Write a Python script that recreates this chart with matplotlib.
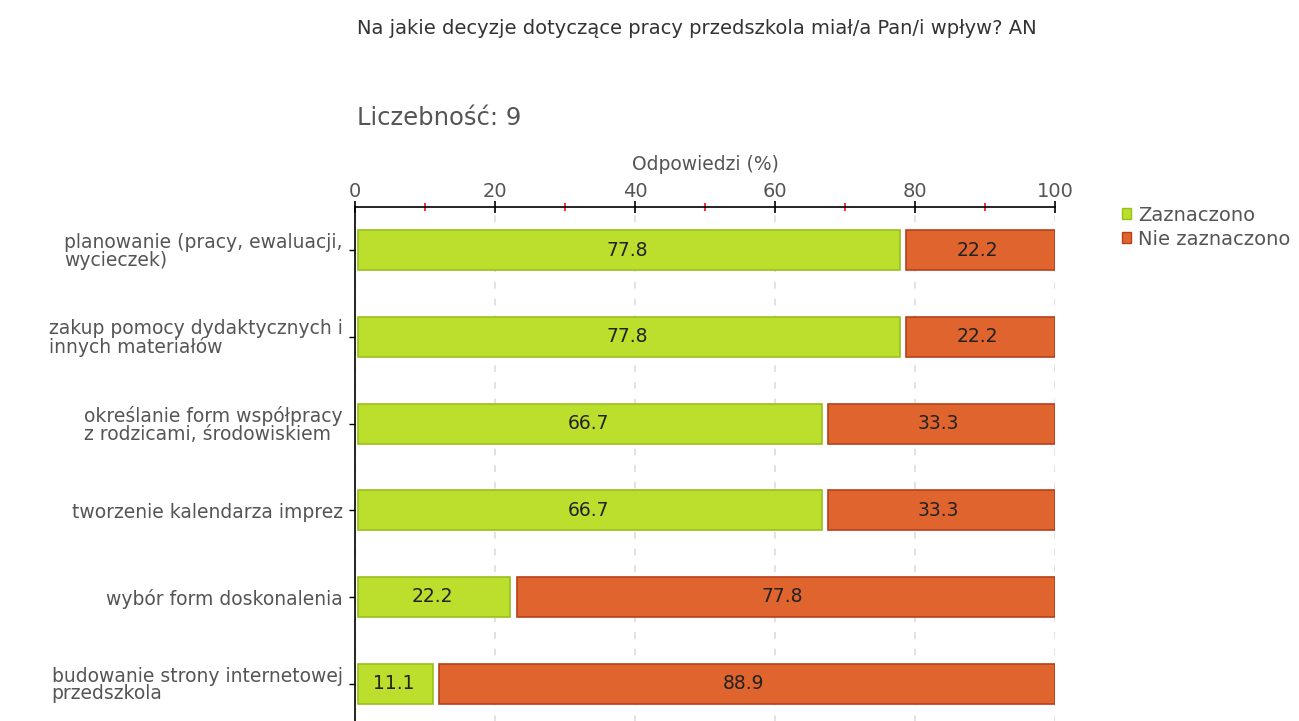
import matplotlib.pyplot as plt
import numpy as np
from matplotlib.ticker import MultipleLocator
from matplotlib.patches import Patch

plt.rcParams['font.family'] = ['DejaVu Sans']

# answers (percent of respondents)
categories = ['planowanie (pracy, ewaluacji,\nwycieczek)',
              'zakup pomocy dydaktycznych i\ninnych materiałów',
              'określanie form współpracy\nz rodzicami, środowiskiem',
              'tworzenie kalendarza imprez',
              'wybór form doskonalenia',
              'budowanie strony internetowej\nprzedszkola']
zaznaczono = [77.8, 77.8, 66.7, 66.7, 22.2, 11.1]
nie_zaznaczono = [22.2, 22.2, 33.3, 33.3, 77.8, 88.9]

green = '#bbdf2c'
green_edge = '#98c01c'
orange = '#e0642e'
orange_edge = '#b5401a'
grey = '#555555'

fig = plt.figure(figsize=(12.99, 7.21), dpi=100)
ax = fig.add_axes([355/1299, (721-727)/721, 700/1299, 520/721])

y = np.arange(len(categories))
gap = 0.45
for i in range(len(categories)):
    a = zaznaczono[i]
    b = nie_zaznaczono[i]
    ax.barh(y[i], a - gap, left=gap, height=0.46, color=green,
            edgecolor=green_edge, linewidth=1.2, zorder=3)
    ax.barh(y[i], b - 2*gap, left=a + 2*gap, height=0.46, color=orange,
            edgecolor=orange_edge, linewidth=1.2, zorder=3)
    ax.text(a / 2, y[i], '%.1f' % a, ha='center', va='center',
            fontsize=13.5, color='#222222', zorder=4)
    ax.text(a + b / 2, y[i], '%.1f' % b, ha='center', va='center',
            fontsize=13.5, color='#222222', zorder=4)

ax.set_xlim(0, 100)
ax.set_ylim(len(categories) - 0.5, -0.5)
ax.set_yticks(y)
ax.set_yticklabels(categories, fontsize=13.5, color=grey, linespacing=0.92,
                   multialignment='left')

ax.xaxis.tick_top()
ax.xaxis.set_label_position('top')
ax.xaxis.set_major_locator(MultipleLocator(20))
ax.xaxis.set_minor_locator(MultipleLocator(10))
ax.tick_params(axis='x', which='major', direction='inout', length=8, width=1.2,
               labelsize=14, labelcolor=grey, pad=0)
ax.tick_params(axis='x', which='minor', direction='inout', length=6, width=1.3,
               color='#ff2020')
ax.tick_params(axis='y', direction='out', length=4, width=1, pad=5)
ax.set_xlabel('Odpowiedzi (%)', fontsize=13.5, color=grey, labelpad=9)

ax.grid(axis='x', which='major', linestyle=(0, (4, 6)), color='#dddddd',
        linewidth=1.2, zorder=0)
for s in ['right', 'bottom']:
    ax.spines[s].set_visible(False)
ax.spines['top'].set_linewidth(1.2)
ax.spines['left'].set_linewidth(1.2)

fig.text(357/1299, 1 - 29/721, 'Na jakie decyzje dotyczące pracy przedszkola miał/a Pan/i wpływ? AN',
         fontsize=14, color='#333333', va='center')
fig.text(357/1299, 1 - 118/721, 'Liczebność: 9', fontsize=17.5, color=grey, va='center')

handles = [Patch(facecolor=green, edgecolor=green_edge),
           Patch(facecolor=orange, edgecolor=orange_edge)]
leg = fig.legend(handles, ['Zaznaczono', 'Nie zaznaczono'], loc='upper left',
                 bbox_to_anchor=(1112/1299, 1 - 196/721), frameon=False,
                 fontsize=14, handlelength=0.5, handleheight=0.5,
                 handletextpad=0.35, labelspacing=0.25, borderpad=0)
for t in leg.get_texts():
    t.set_color(grey)

fig.savefig('out.png', dpi=100)
